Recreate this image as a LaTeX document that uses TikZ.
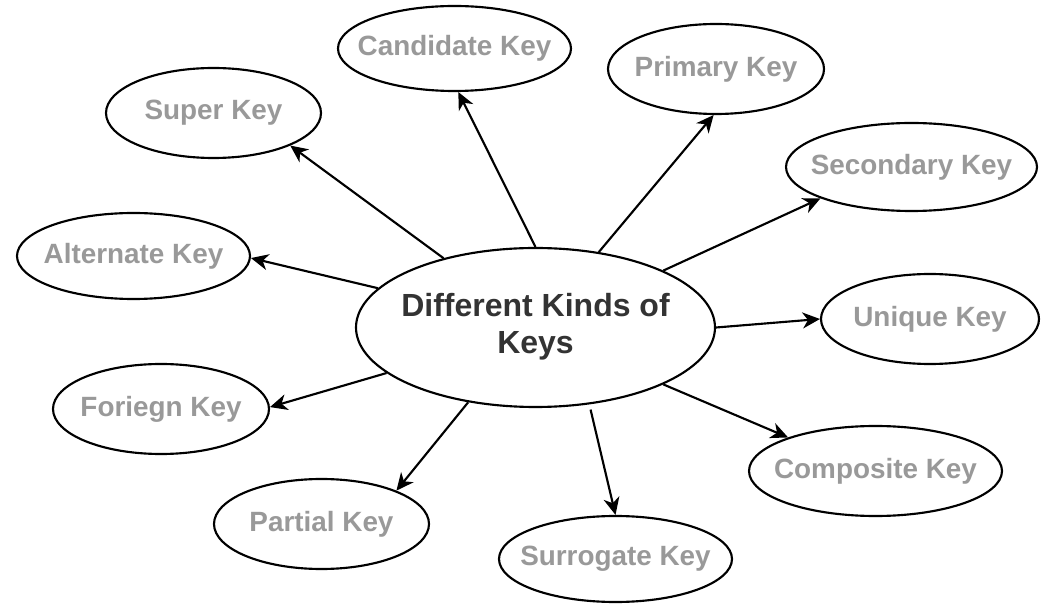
\documentclass[tikz,border=0pt]{standalone}
\usepackage{fontspec}
\setmainfont{Liberation Sans}
\usetikzlibrary{shapes.geometric,arrows.meta}
\definecolor{keygray}{HTML}{999999}
\definecolor{hubtext}{HTML}{333333}
% zero-width box so the label never widens its ellipse
\newcommand\keylabel[1]{\makebox[0pt]{#1}}
\begin{document}
\begin{tikzpicture}[x=0.75pt,y=-0.75pt,
  keynode/.style={ellipse,draw,line width=1.6pt,inner sep=0pt,fill=white,
    font=\fontsize{20.9}{24}\selectfont\bfseries,text=keygray},
  hub/.style={ellipse,draw,line width=1.6pt,inner sep=0pt,fill=white,
    font=\fontsize{24}{27.75}\selectfont\bfseries,text=hubtext},
  link/.style={line width=1.6pt,-{Stealth[length=13pt,width=12pt,inset=4pt]}}]
\useasboundingbox (0,0) rectangle (1042,605);

% central concept
\node[hub,minimum width=269.25pt,minimum height=119.25pt] (hub) at (535.5,327.5)
  {\keylabel{\begin{tabular}{@{}c@{}}Different Kinds of\\Keys\end{tabular}}};

% kinds of keys
\node[keynode,minimum width=161.25pt,minimum height=67.5pt] (super) at (213.5,113) {\keylabel{Super Key}};
\node[keynode,minimum width=174.75pt,minimum height=63.75pt] (cand) at (454.5,48.5) {\keylabel{Candidate Key}};
\node[keynode,minimum width=162pt,minimum height=67.5pt] (prim) at (716,69) {\keylabel{Primary Key}};
\node[keynode,minimum width=188.25pt,minimum height=66pt] (sec) at (911.5,167) {\keylabel{Secondary Key}};
\node[keynode,minimum width=174.75pt,minimum height=64.5pt] (alt) at (133.5,256) {\keylabel{Alternate Key}};
\node[keynode,minimum width=163.5pt,minimum height=67.5pt] (uniq) at (930,319) {\keylabel{Unique Key}};
\node[keynode,minimum width=162pt,minimum height=67.5pt] (fk) at (161,409) {\keylabel{Foriegn Key}};
\node[keynode,minimum width=189.75pt,minimum height=67.5pt] (comp) at (875.5,471) {\keylabel{Composite Key}};
\node[keynode,minimum width=174.75pt,minimum height=64.5pt] (surr) at (615.5,559) {\keylabel{Surrogate Key}};
\node[keynode,minimum width=161.25pt,minimum height=67.5pt] (part) at (321.5,524) {\keylabel{Partial Key}};

% connectors from the hub
\draw[link] (hub.143.6) -- (super.-23.8);
\draw[link] (hub.90) -- (cand.-85.7);
\draw[link] (hub.50.6) -- (prim.-93.7);
\draw[link] (hub.24.7) -- (sec.199.8);
\draw[link] (hub.166.2) -- (alt.-1);
\draw[link] (hub.0) -- (uniq.180);
\draw[link] (hub.197.4) -- (fk.1);
\draw[link] (hub.-24.3) -- (comp.159);
\draw[link,shorten <=4pt] (hub.-55.1) -- (surr.90);
\draw[link] (hub.228.9) -- (part.24);
\end{tikzpicture}
\end{document}
